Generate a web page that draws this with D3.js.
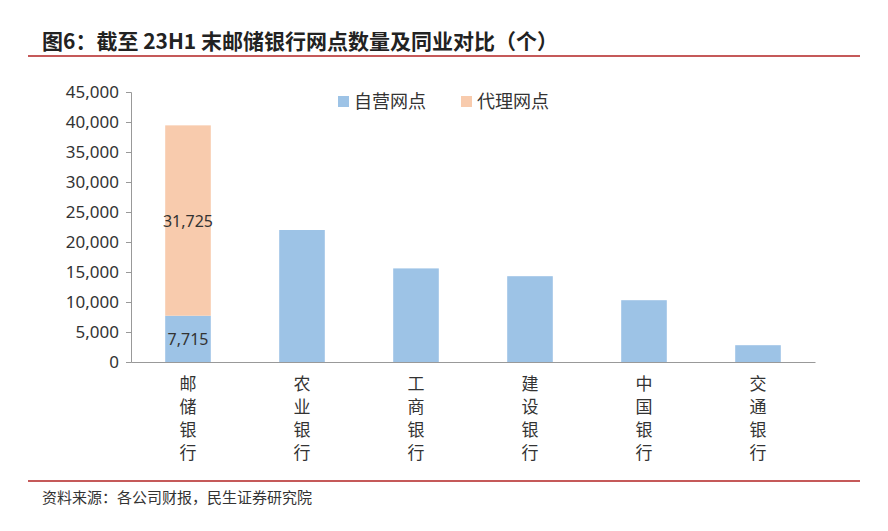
<!DOCTYPE html>
<html><head><meta charset="utf-8">
<script src="https://cdn.jsdelivr.net/npm/d3@7"></script>
<style>body{margin:0;background:#fff}svg{font-family:"Noto Sans CJK SC","Noto Sans",sans-serif}</style>
</head><body><svg id="c" width="888" height="531"></svg>
<script>
const categories=["邮储银行","农业银行","工商银行","建设银行","中国银行","交通银行"];
const selfOperated=[7715,22000,15600,14300,10300,2800];
const agency=[31725,0,0,0,0,0];
const yTicks=[0,5000,10000,15000,20000,25000,30000,35000,40000,45000];
const seriesNames=["自营网点","代理网点"];
const colors=["#9DC3E6","#F8CBAD"];

const svg=d3.select("#c");
svg.append("text").attr("x",42).attr("y",49).attr("font-size",21).attr("font-weight","bold").attr("fill","#222").text("图6：截至 23H1 末邮储银行网点数量及同业对比（个）");
svg.append("line").attr("x1",28).attr("x2",860).attr("y1",56).attr("y2",56).attr("stroke","#B22222").attr("stroke-width",1.5);
svg.append("line").attr("x1",28).attr("x2",860).attr("y1",481).attr("y2",481).attr("stroke","#B22222").attr("stroke-width",1.5);
svg.append("text").attr("x",42).attr("y",503).attr("font-size",15).attr("fill","#333").text("资料来源：各公司财报，民生证券研究院");

const x=d3.scaleBand().domain(categories).range([131,815]).paddingInner(0.6).paddingOuter(0.3);
const y=d3.scaleLinear().domain([0,45000]).range([362,92]);
const g=svg.append("g");
const ya=g.append("g").attr("transform","translate(131,0)").call(d3.axisLeft(y).tickValues(yTicks).tickFormat(d3.format(",")).tickSize(5));
ya.selectAll("text").attr("font-size",17).attr("fill","#333").attr("font-family","Noto Sans").attr("dx",-4);
ya.selectAll("path,line").attr("stroke","#999");
const xa=g.append("g").attr("transform","translate(0,362)").call(d3.axisBottom(x).tickSize(0).tickFormat(""));
xa.select("path").attr("stroke","#999");
categories.forEach((c,i)=>{
  const xc=x(c)+x.bandwidth()/2;
  [...c].forEach((ch,j)=>g.append("text").attr("x",xc).attr("y",390+j*23).attr("text-anchor","middle").attr("font-size",17).attr("fill","#333").text(ch));
  g.append("rect").attr("x",x(c)).attr("width",x.bandwidth()).attr("y",y(selfOperated[i])).attr("height",y(0)-y(selfOperated[i])).attr("fill",colors[0]);
  if(agency[i]>0){
    const top=selfOperated[i]+agency[i];
    g.append("rect").attr("x",x(c)).attr("width",x.bandwidth()).attr("y",y(top)).attr("height",y(selfOperated[i])-y(top)).attr("fill",colors[1]);
    g.append("text").attr("x",xc).attr("y",(y(selfOperated[i])+y(top))/2+6).attr("text-anchor","middle").attr("font-size",16).attr("font-family","Noto Sans").attr("fill","#333").text(d3.format(",")(agency[i]));
    g.append("text").attr("x",xc).attr("y",(y(0)+y(selfOperated[i]))/2+6).attr("text-anchor","middle").attr("font-size",16).attr("font-family","Noto Sans").attr("fill","#333").text(d3.format(",")(selfOperated[i]));
  }
});
const lg=svg.append("g");
[[338,0],[461,1]].forEach(([lx,k])=>{
  lg.append("rect").attr("x",lx).attr("y",96).attr("width",11).attr("height",11).attr("fill",colors[k]);
  lg.append("text").attr("x",lx+16).attr("y",108).attr("font-size",18).attr("fill","#333").text(seriesNames[k]);
});
</script></body></html>
